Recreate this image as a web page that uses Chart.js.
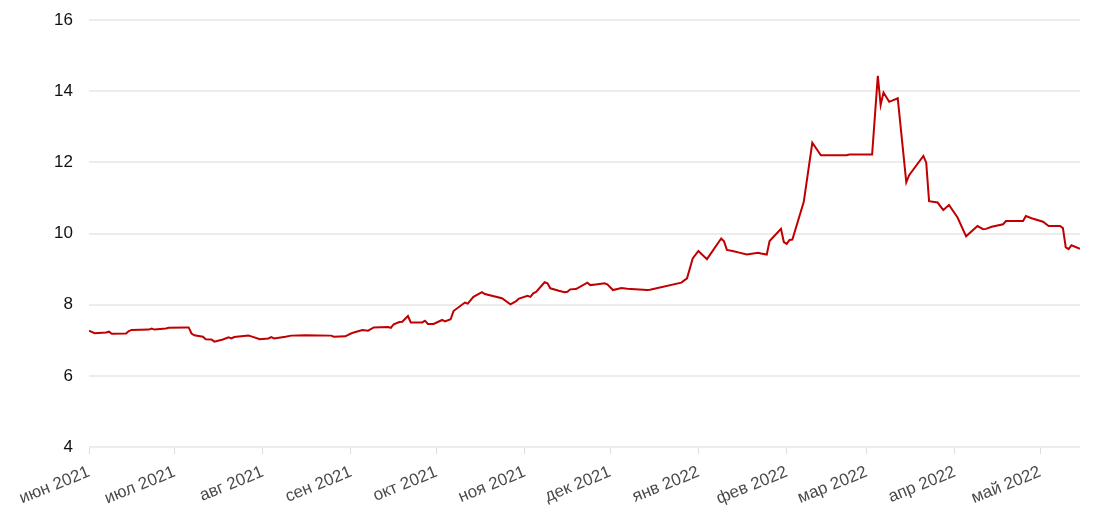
<!DOCTYPE html>
<html>
<head>
<meta charset="utf-8">
<script src="https://cdn.jsdelivr.net/npm/chart.js@4"></script>
<style>
  body { margin: 0; background: #fff; }
  #wrap { width: 1100px; height: 530px; }
</style>
</head>
<body>
<div id="wrap"><canvas id="myChart"></canvas></div>
<script>
// даты и значения
const dates = [
  '2021-06-01','2021-06-03','2021-06-07','2021-06-08','2021-06-09','2021-06-14','2021-06-15','2021-06-16',
  '2021-06-22','2021-06-23','2021-06-24','2021-06-28','2021-06-29','2021-07-05','2021-07-06','2021-07-07',
  '2021-07-08','2021-07-11','2021-07-12','2021-07-14','2021-07-15','2021-07-18','2021-07-20','2021-07-21',
  '2021-07-22','2021-07-27','2021-07-28','2021-07-31','2021-08-03','2021-08-04','2021-08-05','2021-08-09',
  '2021-08-11','2021-08-16','2021-08-25','2021-08-26','2021-08-30','2021-09-01','2021-09-02','2021-09-05',
  '2021-09-07','2021-09-09','2021-09-14','2021-09-15','2021-09-16','2021-09-18','2021-09-19','2021-09-21',
  '2021-09-22','2021-09-26','2021-09-27','2021-09-28','2021-09-30','2021-10-03','2021-10-04','2021-10-06',
  '2021-10-07','2021-10-11','2021-10-12','2021-10-14','2021-10-17','2021-10-18','2021-10-24','2021-10-27',
  '2021-10-29','2021-10-30','2021-11-02','2021-11-03','2021-11-04','2021-11-05','2021-11-08','2021-11-09',
  '2021-11-10','2021-11-13','2021-11-15','2021-11-16','2021-11-17','2021-11-19','2021-11-23','2021-11-24',
  '2021-11-26','2021-11-29','2021-11-30','2021-12-02','2021-12-05','2021-12-07','2021-12-14','2021-12-15',
  '2021-12-26','2021-12-28','2021-12-30','2022-01-01','2022-01-04','2022-01-09','2022-01-10','2022-01-11',
  '2022-01-13','2022-01-15','2022-01-18','2022-01-22','2022-01-23','2022-01-25','2022-01-26','2022-01-30',
  '2022-01-31','2022-02-01','2022-02-02','2022-02-03','2022-02-07','2022-02-10','2022-02-13','2022-02-22',
  '2022-02-23','2022-03-03','2022-03-05','2022-03-06','2022-03-07','2022-03-09','2022-03-12','2022-03-15',
  '2022-03-16','2022-03-21','2022-03-22','2022-03-23','2022-03-26','2022-03-28','2022-03-30','2022-04-02',
  '2022-04-05','2022-04-09','2022-04-11','2022-04-12','2022-04-14','2022-04-18','2022-04-19','2022-04-25',
  '2022-04-26','2022-04-28','2022-05-02','2022-05-04','2022-05-08','2022-05-09','2022-05-10','2022-05-11',
  '2022-05-12','2022-05-15'
];
const values = [
  7.27,7.20,7.22,7.24,7.18,7.19,7.26,7.29,
  7.30,7.33,7.30,7.33,7.35,7.36,7.36,7.19,
  7.14,7.10,7.03,7.02,6.96,7.02,7.08,7.05,
  7.09,7.13,7.11,7.03,7.05,7.09,7.05,7.10,
  7.13,7.14,7.13,7.10,7.11,7.19,7.22,7.29,
  7.27,7.36,7.37,7.35,7.45,7.51,7.52,7.68,
  7.50,7.50,7.55,7.46,7.46,7.57,7.53,7.59,
  7.82,8.06,8.03,8.22,8.35,8.30,8.18,8.01,
  8.10,8.17,8.25,8.22,8.32,8.36,8.63,8.60,
  8.46,8.39,8.35,8.36,8.43,8.44,8.62,8.55,
  8.57,8.60,8.57,8.41,8.47,8.45,8.41,8.42,
  8.62,8.74,9.30,9.51,9.28,9.86,9.78,9.54,
  9.51,9.47,9.41,9.46,9.44,9.41,9.79,10.13,
  9.76,9.71,9.82,9.83,10.89,12.55,12.20,12.20,
  12.22,12.22,14.43,13.61,13.96,13.70,13.80,11.44,
  11.64,12.18,11.99,10.91,10.87,10.66,10.80,10.45,
  9.92,10.21,10.12,10.13,10.19,10.26,10.35,10.35,
  10.49,10.43,10.33,10.21,10.21,10.15,9.61,9.56,
  9.67,9.57
];

// подписи оси X (начало каждого месяца)
const monthStarts = [
  '2021-06-01','2021-07-01','2021-08-01','2021-09-01','2021-10-01','2021-11-01',
  '2021-12-01','2022-01-01','2022-02-01','2022-03-01','2022-04-01','2022-05-01'
];
const monthLabels = [
  'июн 2021','июл 2021','авг 2021','сен 2021','окт 2021','ноя 2021',
  'дек 2021','янв 2022','фев 2022','мар 2022','апр 2022','май 2022'
];
const yTicks = [4, 6, 8, 10, 12, 14, 16];
const xStart = '2021-06-01';
const xEnd = '2022-05-15';

// день от начала периода
function dayOf(s) {
  const p = s.split('-').map(Number);
  const p0 = xStart.split('-').map(Number);
  return (Date.UTC(p[0], p[1] - 1, p[2]) - Date.UTC(p0[0], p0[1] - 1, p0[2])) / 86400000;
}

const points = dates.map((d, i) => ({ x: dayOf(d), y: values[i] }));
const tickDays = monthStarts.map(dayOf);

const ctx = document.getElementById('myChart').getContext('2d');
new Chart(ctx, {
  type: 'line',
  data: {
    datasets: [{
      data: points,
      borderColor: '#c00000',
      borderWidth: 2,
      pointRadius: 0,
      tension: 0,
      fill: false
    }]
  },
  options: {
    responsive: true,
    maintainAspectRatio: false,
    animation: false,
    layout: { padding: { top: 20, right: 20, left: 0, bottom: 0 } },
    plugins: { legend: { display: false }, tooltip: { enabled: false } },
    scales: {
      x: {
        type: 'linear',
        min: 0,
        max: dayOf(xEnd),
        afterBuildTicks: (scale) => { scale.ticks = tickDays.map(v => ({ value: v })); },
        afterFit: (scale) => { scale.height = 83; scale.paddingTop = 0; },
        border: { display: false },
        grid: { drawOnChartArea: false, drawTicks: true, tickLength: 7, color: '#dddddd' },
        ticks: {
          autoSkip: false,
          minRotation: 22,
          maxRotation: 22,
          padding: 8,
          color: '#4a4a4a',
          font: { family: 'Liberation Sans, Arial, sans-serif', size: 17 },
          callback: (v) => {
            const i = tickDays.indexOf(v);
            return i >= 0 ? monthLabels[i] : '';
          }
        }
      },
      y: {
        min: 4,
        max: 16,
        afterBuildTicks: (scale) => { scale.ticks = yTicks.map(v => ({ value: v })); },
        afterFit: (scale) => { scale.width = 89; scale.paddingTop = 0; scale.paddingBottom = 0; },
        border: { display: false },
        grid: { color: '#ececec', lineWidth: 2, drawTicks: false },
        ticks: {
          padding: 16,
          color: '#111111',
          font: { family: 'Liberation Sans, Arial, sans-serif', size: 17 }
        }
      }
    }
  }
});
</script>
</body>
</html>
